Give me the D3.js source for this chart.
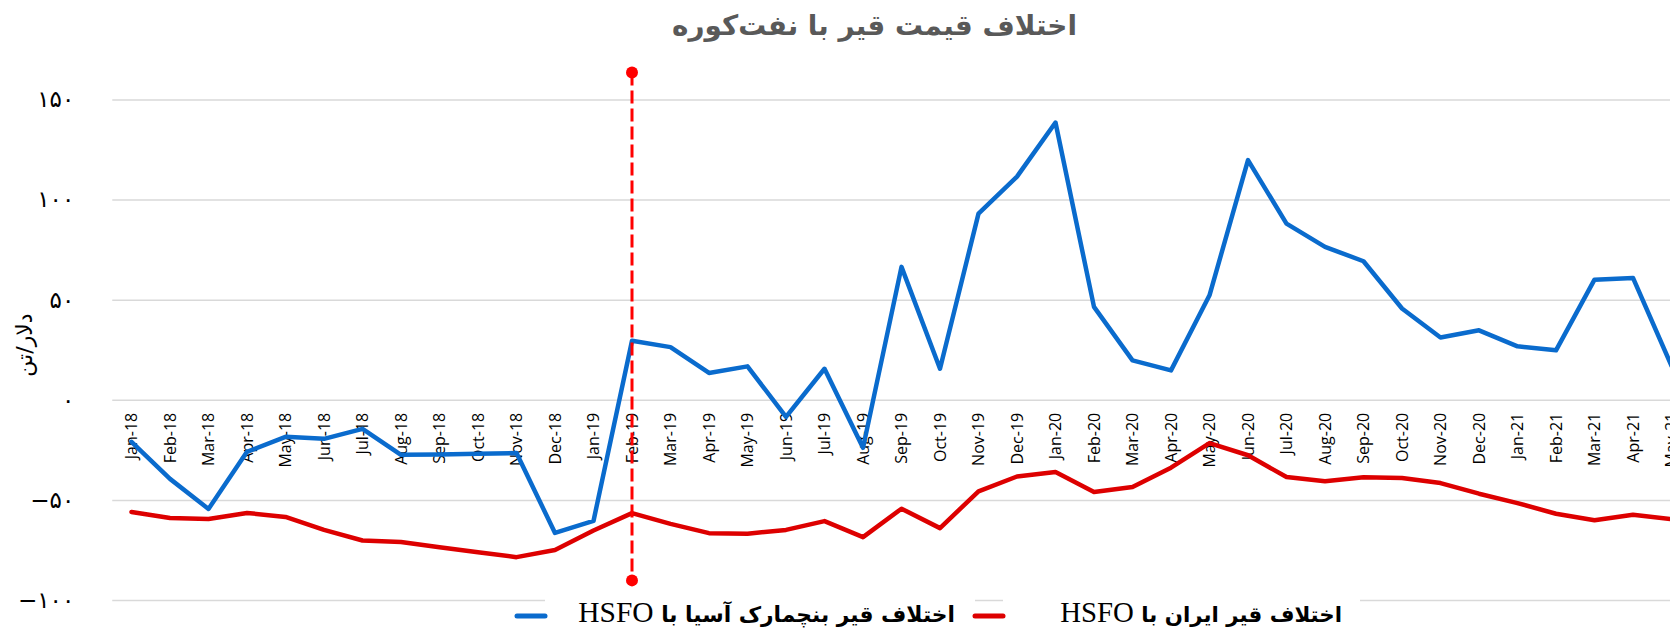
<!DOCTYPE html>
<html>
<head>
<meta charset="utf-8">
<script src="https://cdn.jsdelivr.net/npm/d3@7"></script>
<style>
  html, body { margin: 0; padding: 0; background: #fff; overflow: hidden; }
  svg { display: block; }
</style>
</head>
<body>
<div id="chart"></div>
<script>
const WIDTH = 1670;
const HEIGHT = 628;

const TITLE = "اختلاف قیمت قیر با نفت‌کوره";
const Y_TITLE = "دلار/تن";

const months = [
    "Jan-18", "Feb-18", "Mar-18", "Apr-18", "May-18", "Jun-18", "Jul-18", "Aug-18", "Sep-18", "Oct-18", "Nov-18", "Dec-18",
    "Jan-19", "Feb-19", "Mar-19", "Apr-19", "May-19", "Jun-19", "Jul-19", "Aug-19", "Sep-19", "Oct-19", "Nov-19", "Dec-19",
    "Jan-20", "Feb-20", "Mar-20", "Apr-20", "May-20", "Jun-20", "Jul-20", "Aug-20", "Sep-20", "Oct-20", "Nov-20", "Dec-20",
    "Jan-21", "Feb-21", "Mar-21", "Apr-21", "May-21"
];

// اختلاف قیر بنچمارک آسیا با HSFO
const asiaSpread = [
    -21, -39.5, -54.5, -26, -18.5, -19.5, -14.5, -27.5, -27.3, -27, -26.6, -66.5,
    -60.5, 29.5, 26.3, 13.4, 16.7, -8.5, 15.5, -24, 66.4, 15.5, 93, 111.5,
    138.5, 46.4, 19.7, 14.7, 52.2, 119.7, 88, 76.4, 69.2, 45.6, 31.1, 34.7,
    26.7, 24.7, 60, 60.9, 17
];

// اختلاف قیر ایران با HSFO
const iranSpread = [
    -56, -59, -59.5, -56.5, -58.5, -65, -70.3, -71, -73.6, -76.1, -78.6, -75,
    -65.3, -56.6, -62, -66.6, -66.9, -65, -60.6, -68.6, -54.4, -64.1, -45.7, -38.3,
    -36.1, -46.1, -43.6, -33.9, -21.6, -27.7, -38.6, -40.7, -38.7, -39.1, -41.6, -46.9,
    -51.6, -56.9, -60.2, -57.4, -59.6
];

const yTicks = [-100, -50, 0, 50, 100, 150];

const markerMonth = "Feb-19";
const markerRange = [163.5, -90.2];

const legendItems = [
    { label: "اختلاف قیر بنچمارک آسیا با ", latin: "HSFO", color: "#0A6BCD" },
    { label: "اختلاف قیر ایران با ", latin: "HSFO", color: "#DD0000" }
];

const toPersianDigits = s => String(s).replace("-", "\u2212").replace(/\d/g, d => "۰۱۲۳۴۵۶۷۸۹"[d]);

const svg = d3.select("#chart").append("svg")
    .attr("width", WIDTH)
    .attr("height", HEIGHT);

// plot runs off the right edge of the picture, as in the reference
const plotLeft = 112.25;
const band = 38.5;
const x = d3.scaleBand()
    .domain(months)
    .range([plotLeft, plotLeft + band * months.length]);
const xc = m => x(m) + x.bandwidth() / 2;

const y = d3.scaleLinear()
    .domain([-100, 150])
    .range([600, 99.5]);

// grid + y labels
const yAxis = svg.append("g")
    .attr("transform", `translate(${plotLeft},0)`)
    .call(d3.axisLeft(y)
        .tickValues(yTicks)
        .tickSize(-(WIDTH - plotLeft))
        .tickPadding(38)
        .tickFormat(toPersianDigits));
yAxis.select(".domain").remove();
yAxis.selectAll(".tick line")
    .attr("stroke", "#d9d9d9")
    .attr("stroke-width", 1.5);
yAxis.selectAll(".tick text")
    .attr("font-family", "DejaVu Sans")
    .attr("font-size", 23)
    .attr("fill", "#000");

// month labels under the zero line
const xAxis = svg.append("g")
    .attr("transform", `translate(0,${y(0)})`)
    .call(d3.axisBottom(x).tickSize(0).tickPadding(0));
xAxis.select(".domain").remove();
xAxis.selectAll(".tick text")
    .attr("font-family", "Open Sans")
    .attr("font-size", 16)
    .attr("fill", "#000")
    .attr("text-anchor", "end")
    .attr("dy", "0.35em")
    .attr("transform", "translate(0,13) rotate(-90)");

// y title
svg.append("text")
    .attr("transform", "translate(32,345) rotate(-90)")
    .attr("text-anchor", "middle")
    .attr("font-family", "DejaVu Sans")
    .attr("font-size", 22)
    .text(Y_TITLE);

// series
const line = d3.line()
    .x((d, i) => xc(months[i]))
    .y(d => y(d));

svg.append("path")
    .datum(iranSpread)
    .attr("fill", "none")
    .attr("stroke", legendItems[1].color)
    .attr("stroke-width", 4.5)
    .attr("stroke-linejoin", "round")
    .attr("stroke-linecap", "round")
    .attr("d", line);

svg.append("path")
    .datum(asiaSpread)
    .attr("fill", "none")
    .attr("stroke", legendItems[0].color)
    .attr("stroke-width", 4.5)
    .attr("stroke-linejoin", "round")
    .attr("stroke-linecap", "round")
    .attr("d", line);

// dashed marker at Feb-19
const mx = xc(markerMonth);
svg.append("line")
    .attr("x1", mx).attr("x2", mx)
    .attr("y1", y(markerRange[0])).attr("y2", y(markerRange[1]))
    .attr("stroke", "#ff0000")
    .attr("stroke-width", 3)
    .attr("stroke-dasharray", "13 5");
svg.selectAll(".marker-dot")
    .data(markerRange)
    .join("circle")
    .attr("class", "marker-dot")
    .attr("cx", mx)
    .attr("cy", d => y(d))
    .attr("r", 6)
    .attr("fill", "#ff0000");

// scale a text (and any sized tspans) so it takes the given width
function fitText(sel, target) {
    const k = target / sel.node().getComputedTextLength();
    sel.attr("font-size", +sel.attr("font-size") * k);
    sel.selectAll("tspan").each(function() {
        const t = d3.select(this);
        if (t.attr("font-size")) t.attr("font-size", +t.attr("font-size") * k);
    });
}

const title = svg.append("text")
    .attr("x", 874.5)
    .attr("y", 35)
    .attr("text-anchor", "middle")
    .attr("font-family", "DejaVu Sans")
    .attr("font-weight", "bold")
    .attr("font-size", 26)
    .attr("fill", "#595959")
    .attr("direction", "rtl")
    .text(TITLE);
fitText(title, 405);

// legend
const legendPos = [
    { markerX: 517, textRight: 955, textWidth: 377, boxRight: 975 },
    { markerX: 975, textRight: 1342, textWidth: 282, boxRight: 1360 }
];
const legend = svg.append("g");
legendItems.forEach((item, i) => {
    const p = legendPos[i];
    legend.append("rect")
        .attr("x", p.markerX + 28)
        .attr("y", 594)
        .attr("width", p.boxRight - p.markerX - 28)
        .attr("height", 34)
        .attr("fill", "#fff");
    legend.append("line")
        .attr("x1", p.markerX).attr("x2", p.markerX + 28)
        .attr("y1", 616).attr("y2", 616)
        .attr("stroke", item.color)
        .attr("stroke-width", 5)
        .attr("stroke-linecap", "round");
    const t = legend.append("text")
        .attr("x", p.textRight)
        .attr("y", 622)
        .attr("direction", "rtl")
        .attr("text-anchor", "start")
        .attr("font-family", "DejaVu Sans")
        .attr("font-weight", "bold")
        .attr("font-size", 20)
        .attr("fill", "#000");
    t.append("tspan").text(item.label);
    t.append("tspan")
        .attr("font-family", "Liberation Serif")
        .attr("font-weight", "normal")
        .attr("font-size", 27)
        .text(item.latin);
    fitText(t, p.textWidth);
});
</script>
</body>
</html>
